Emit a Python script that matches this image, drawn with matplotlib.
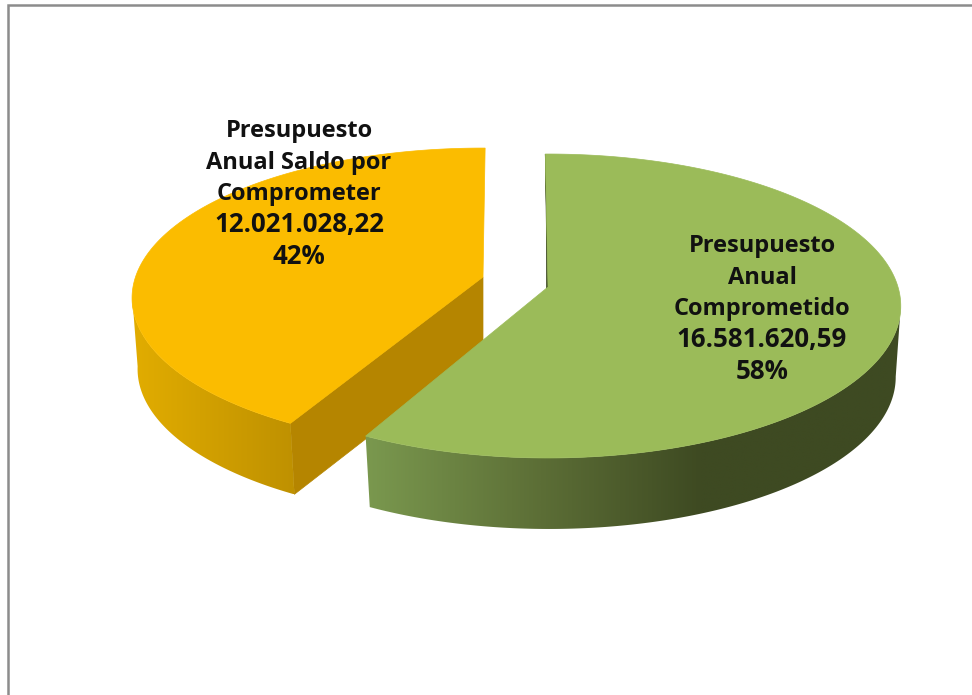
"""3D exploded pie: Presupuesto Anual."""

import numpy as np
import matplotlib
matplotlib.use('Agg')
import matplotlib.pyplot as plt
from matplotlib.colors import LinearSegmentedColormap
from matplotlib.patches import Polygon

# Data
labels = ['Presupuesto\nAnual\nComprometido', 'Presupuesto\nAnual Saldo por\nComprometer']
values = [16581620.59, 12021028.22]
value_labels = ['16.581.620,59', '12.021.028,22']
pct_labels = ['58%', '42%']

# Look of each slice
top_colors = ['#9BBB59', '#FBBC00']
wall_stops = [
    [(355, '#7C9B50'), (540, '#5C6E36'), (700, '#3E4A22'), (910, '#3E4A22')],
    [(130, '#E2AD00'), (293, '#BF9100'), (320, '#BF9100')],
]
cut_colors = ['#3E4A22', '#B58500']
apex = [(548, 287), (483, 277)]
rotation = [-0.5, 0.4]
rim_trim = [0.6, 0.0]
rx_top = [350, 347.5]
ry_top = [149.6, 147]
persp = [0.125, 0.14]
wall_dx = [1, 2]
label_x = [762, 299]
label_base = [252, 137]

RX_BOTTOM = 344
DEPTH = 71
LINE = 31.7


def rim(t_deg, centre, rx, ry, k, dy=0.0, dx=0.0):
    t = np.radians(t_deg)
    u = -np.cos(t)
    d = 1 - k * u
    return np.column_stack([centre[0] + dx + rx * np.sin(t) / d,
                            centre[1] + dy + ry * u / d])


def gradient_wall(ax, poly, stops):
    x0, x1 = stops[0][0], stops[-1][0]
    cmap = LinearSegmentedColormap.from_list(
        'wall', [((x - x0) / (x1 - x0), c) for x, c in stops])
    patch = Polygon(poly, closed=True, fc='none', ec='none')
    ax.add_patch(patch)
    y0, y1 = poly[:, 1].min(), poly[:, 1].max()
    im = ax.imshow(np.linspace(0, 1, 512)[None, :], cmap=cmap, aspect='auto',
                   extent=(x0, x1, y1, y0), interpolation='bilinear', zorder=patch.get_zorder())
    im.set_clip_path(patch)


fig = plt.figure(figsize=(9.72, 6.95), dpi=100)
ax = fig.add_axes([0, 0, 1, 1])

# Frame
ax.plot([8, 8, 972], [695, 5, 5], color='#8C8C8C', lw=1.8, solid_joinstyle='miter')

fractions = np.array(values) / sum(values)
starts = np.concatenate([[0], np.cumsum(fractions)[:-1]]) * 360
sweeps = fractions * 360

# Gold first, the green slice sits in front of it
for i in [1, 0]:
    t0 = starts[i] + rotation[i]
    t1 = 360 + rotation[i] if i == 1 else t0 + sweeps[i] - rim_trim[i]
    ts = np.linspace(t0, t1, 400)
    top = rim(ts, apex[i], rx_top[i], ry_top[i], persp[i])
    bottom = rim(ts, apex[i], RX_BOTTOM, ry_top[i], persp[i], dy=DEPTH, dx=wall_dx[i])

    # inner cut wall at the start of the slice
    centre_low = (apex[i][0] - (1.5 if i == 0 else 0), apex[i][1] + DEPTH)
    quad = np.array([apex[i], top[0], bottom[0], centre_low])
    ax.add_patch(Polygon(quad, closed=True, fc=cut_colors[i], ec=cut_colors[i], lw=0.5))

    # outer wall, only the part that faces the viewer
    mask = ts >= 97 if i == 0 else ts <= 263
    wall = np.vstack([top[mask], bottom[mask][::-1]])
    gradient_wall(ax, wall, wall_stops[i])

    # top face
    face = np.vstack([[apex[i]], top])
    ax.add_patch(Polygon(face, closed=True, fc=top_colors[i], ec=top_colors[i], lw=0.5))

for i in range(len(values)):
    lines = labels[i].split('\n') + [value_labels[i], pct_labels[i]]
    for n, line in enumerate(lines):
        ax.text(label_x[i], label_base[i] + n * LINE, line, ha='center', va='baseline',
                fontsize=18.6 if n >= 3 else 17, fontweight='bold', family='Open Sans',
                color='#111111')

ax.set_xlim(0, 972)
ax.set_ylim(695, 0)
ax.axis('off')

fig.savefig('out.png', dpi=100)
plt.close(fig)
